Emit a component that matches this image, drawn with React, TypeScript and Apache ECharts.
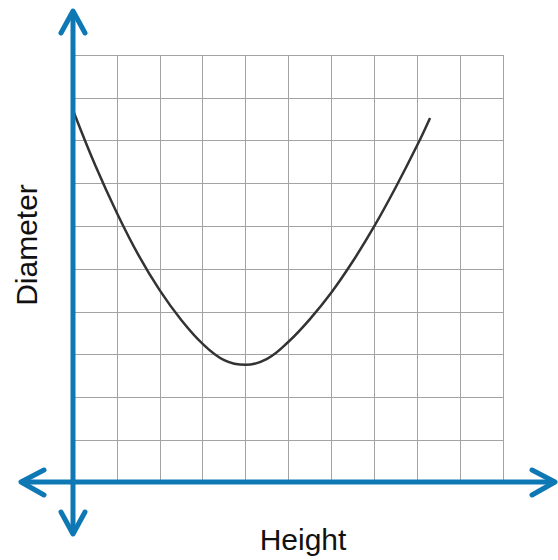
import React, { useEffect, useRef } from "react";
import * as echarts from "echarts";

const xValues = [0, 0.5, 1, 1.5, 2, 2.5, 3, 3.5, 4, 4.5, 5, 5.5, 6, 6.5, 7, 7.5, 8, 8.3];
const yValues = [8.65, 7.41, 6.31, 5.33, 4.5, 3.81, 3.25, 2.87, 2.76, 2.9, 3.3, 3.83, 4.45, 5.18, 6.0, 6.91, 7.89, 8.53];
const axisMin = 0;
const axisMax = 10;
const xTitle = "Height";
const yTitle = "Diameter";

const BLUE = "#0e78b4";

export default function App() {
  const ref = useRef<HTMLDivElement>(null);
  useEffect(() => {
    if (!ref.current) return;
    const chart = echarts.init(ref.current, undefined, { renderer: "svg" });
    const arrowStyle = { stroke: BLUE, lineWidth: 5, lineCap: "round", lineJoin: "round", fill: "none" };
    chart.setOption({
      animation: false,
      grid: { left: 74, top: 55, right: 55, bottom: 77, containLabel: false },
      xAxis: {
        type: "value",
        min: axisMin,
        max: axisMax,
        interval: 1,
        axisLine: { show: false },
        axisTick: { show: false },
        axisLabel: { show: false },
        splitLine: { show: true, lineStyle: { color: "#a3a3a3", width: 1 } },
      },
      yAxis: {
        type: "value",
        min: axisMin,
        max: axisMax,
        interval: 1,
        axisLine: { show: false },
        axisTick: { show: false },
        axisLabel: { show: false },
        splitLine: { show: true, lineStyle: { color: "#a3a3a3", width: 1 } },
      },
      series: [
        {
          type: "line",
          data: xValues.map((x, i) => [x, yValues[i]]),
          smooth: 0.4,
          showSymbol: false,
          lineStyle: { color: "#333333", width: 2.5 },
          z: 3,
        },
      ],
      graphic: [
        { type: "line", shape: { x1: 73, y1: 13, x2: 73, y2: 533 }, style: { stroke: BLUE, lineWidth: 5 }, z: 10 },
        { type: "line", shape: { x1: 22, y1: 482, x2: 555, y2: 482 }, style: { stroke: BLUE, lineWidth: 5 }, z: 10 },
        { type: "polyline", shape: { points: [[61, 33], [73, 11], [85, 33]] }, style: arrowStyle, z: 10 },
        { type: "polyline", shape: { points: [[61, 512], [73, 534], [85, 512]] }, style: arrowStyle, z: 10 },
        { type: "polyline", shape: { points: [[44, 470], [21, 482], [44, 495]] }, style: arrowStyle, z: 10 },
        { type: "polyline", shape: { points: [[532, 470], [555, 482], [532, 495]] }, style: arrowStyle, z: 10 },
        {
          type: "text",
          x: 303,
          y: 539,
          style: {
            text: xTitle,
            fill: "#111",
            font: "30px 'Liberation Sans', Arial, sans-serif",
            align: "center",
            verticalAlign: "middle",
          },
          z: 10,
        },
        {
          type: "text",
          x: 26,
          y: 245,
          rotation: Math.PI / 2,
          style: {
            text: yTitle,
            fill: "#111",
            font: "30px 'Liberation Sans', Arial, sans-serif",
            align: "center",
            verticalAlign: "middle",
          },
          z: 10,
        },
      ],
    });
    return () => chart.dispose();
  }, []);
  return <div ref={ref} style={{ width: 558, height: 560, position: "absolute", left: 0, top: 0 }} />;
}
